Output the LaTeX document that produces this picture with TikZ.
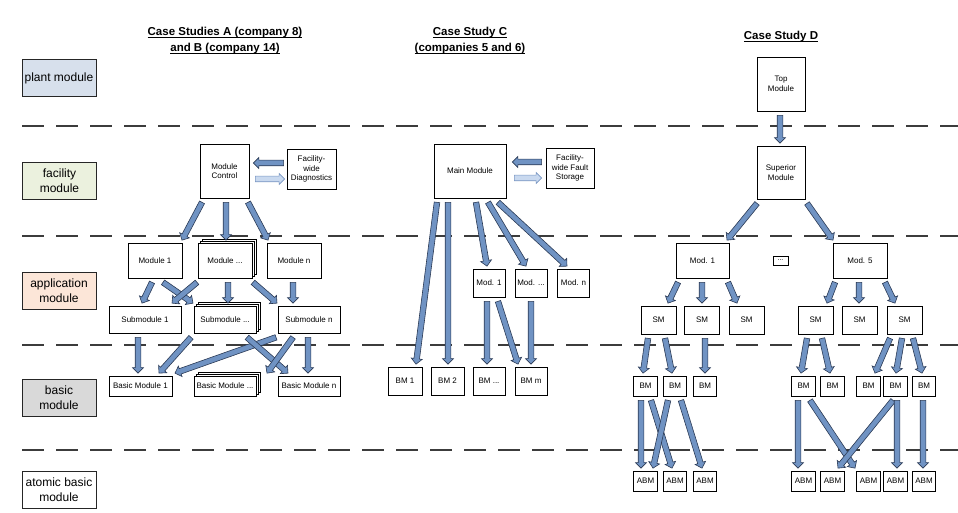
\documentclass[tikz,border=0pt]{standalone}
\usepackage{fontspec}
\setmainfont{Liberation Sans}
\usetikzlibrary{calc}
\definecolor{arrfill}{HTML}{7093C3}
\definecolor{arrline}{HTML}{2B3A55}
\definecolor{lightfill}{HTML}{C9D9EF}
\definecolor{lightline}{HTML}{7895C2}
\definecolor{plantc}{HTML}{D7E0EC}
\definecolor{facc}{HTML}{EBF1DE}
\definecolor{appc}{HTML}{FCE6D8}
\definecolor{basicc}{HTML}{D9D9D9}
\definecolor{dashc}{HTML}{3C3C3C}
\tikzset{
 darr/.style={fill=arrfill, draw=arrline, line width=0.6pt},
 larr/.style={fill=lightfill, draw=lightline, line width=0.6pt},
 box/.style={draw=black, line width=0.7pt, fill=white, font=\fontsize{8}{9.5}\selectfont, align=center, inner sep=1pt},
 layerbox/.style={draw=black!85, line width=1pt, font=\fontsize{12}{15}\selectfont, align=center, minimum width=74, minimum height=37, inner sep=1pt},
 sep/.style={draw=dashc, line width=1.8pt, dash pattern=on 22pt off 12pt},
 head/.style={font=\fontsize{11.5}{16}\selectfont\bfseries, align=center},
}
\newcommand\hdul[1]{\setbox0\hbox{#1}\rlap{\rule[-2.2pt]{\wd0}{0.9pt}}\box0}
\newcommand\arrpoly[3]{%
 \coordinate (faA) at (#2);
 \coordinate (faB) at (#3);
 \coordinate (faH) at ($(faB)!5.5pt!(faA)$);
 \draw[#1] ($(faA)!2.8pt!90:(faB)$) -- ($(faH)!2.8pt!90:(faB)$) -- ($(faH)!5.5pt!90:(faB)$) -- (faB) -- ($(faH)!5.5pt!-90:(faB)$) -- ($(faH)!2.8pt!-90:(faB)$) -- ($(faA)!2.8pt!-90:(faB)$) -- cycle;}
\newcommand\farr[5][darr]{\arrpoly{#1}{$(#2.south)+(#3,4)$}{$(#4.north)+(#5,-2.5)$}}
\newcommand\stacknode[5]{%
 \node[box, minimum width=#3, minimum height=#4] (#1s2) at ($(#2)+(4,-4)$) {};
 \node[box, minimum width=#3, minimum height=#4] (#1s1) at ($(#2)+(2,-2)$) {};
 \node[box, minimum width=#3, minimum height=#4] (#1) at (#2) {#5};}
\begin{document}
\begin{tikzpicture}[x=1pt,y=-1pt]
\useasboundingbox (0,0) rectangle (958,513);
\foreach \yy in {126,236,345,450} \draw[sep] (22,\yy) -- (958,\yy);
% layer labels
\node[layerbox, fill=plantc] (lp) at (59,78.5) {plant module};
\node[layerbox, fill=facc] (lf) at (59.5,181) {facility\\module};
\node[layerbox, fill=appc] (la) at (59,290.5) {application\\module};
\node[layerbox, fill=basicc] (lb) at (59,397.5) {basic\\module};
\node[layerbox, fill=white] (lab) at (59,490) {atomic basic\\module};
% headers
\node[head] (hA) at (225,41) {\hdul{Case Studies A (company 8)}\\\hdul{and B (company 14)}};
\node[head] (hC) at (470,41) {\hdul{Case Study C}\\\hdul{(companies 5 and 6)}};
\node[head] (hD) at (781,37) {\hdul{Case Study D}};
% ---- Case A/B
\node[box, minimum width=49, minimum height=54] (mc) at (224.5,171) {Module\\Control};
\node[box, minimum width=49, minimum height=40] (fd) at (311.5,169) {Facility-\\wide\\Diagnostics};
\node[box, minimum width=54, minimum height=35] (m1) at (155,260.5) {Module 1};
\stacknode{md}{225,260.5}{54}{35}{Module ...}
\node[box, minimum width=54, minimum height=35] (mn) at (294,260.5) {Module n};
\node[box, minimum width=72, minimum height=27] (s1) at (145,319.5) {Submodule 1};
\stacknode{sd}{225,319.5}{62}{27}{Submodule ...}
\node[box, minimum width=62, minimum height=27] (sn) at (309,319.5) {Submodule n};
\node[box, minimum width=63, minimum height=20] (b1) at (140.5,386) {Basic Module 1};
\stacknode{bd}{225,386}{62}{20}{Basic Module ...}
\node[box, minimum width=62, minimum height=20] (bn) at (309,386) {Basic Module n};
\arrpoly{darr}{$(fd.west)+(-3,-6)$}{$(mc.east)+(4,-8)$}
\arrpoly{larr}{$(mc.east)+(6,8)$}{$(fd.west)+(-2,10)$}
\farr{mc}{-22.5}{m1}{27}
\farr{mc}{1.5}{md}{1}
\farr{mc}{23.5}{mn}{-26}
\farr{m1}{-3}{s1}{-3}
\farr{m1}{8}{sd}{-32}
\farr{md}{-28}{s1}{27}
\farr{md}{3}{sd}{3}
\farr{md}{28}{sn}{-32}
\farr{mn}{-1}{sn}{-16}
\farr{s1}{-7}{b1}{-2.5}
\farr{sd}{-34}{b1}{18.5}
\farr{sn}{-33}{b1}{34.5}
\farr{sd}{22}{bn}{-21}
\farr{sn}{-16}{bd}{42}
\farr{sn}{-1}{bn}{-1}
% ---- Case C
\node[box, minimum width=72, minimum height=54] (mm) at (470,171) {Main Module};
\node[box, minimum width=48, minimum height=40] (fs) at (570,168) {Facility-\\wide Fault\\Storage};
\node[box, minimum width=32, minimum height=28] (c1) at (489,283) {Mod. 1};
\node[box, minimum width=32, minimum height=28] (cd) at (531,283) {Mod. ...};
\node[box, minimum width=32, minimum height=28] (cn) at (573.5,283) {Mod. n};
\node[box, minimum width=34, minimum height=28] (bm1) at (405,381) {BM 1};
\node[box, minimum width=33, minimum height=28] (bm2) at (447.5,381) {BM 2};
\node[box, minimum width=32, minimum height=28] (bmd) at (489,381) {BM ...};
\node[box, minimum width=32, minimum height=28] (bmm) at (531,381) {BM m};
\arrpoly{darr}{$(fs.west)+(-4,-6)$}{$(mm.east)+(6,-9)$}
\arrpoly{larr}{$(mm.east)+(8,7)$}{$(fs.west)+(-4,10)$}
\farr{mm}{-33}{bm1}{11}
\farr{mm}{-22}{bm2}{0.5}
\farr{mm}{6}{c1}{-2}
\farr{mm}{18}{cd}{-5}
\farr{mm}{28}{cn}{-6.5}
\farr{c1}{-2}{bmd}{-2}
\farr{c1}{9}{bmm}{-13}
\farr{cd}{0}{bmm}{0}
% ---- Case D
\node[box, minimum width=48, minimum height=54] (top) at (781,84) {Top\\Module};
\node[box, minimum width=48, minimum height=53] (sup) at (781,172.5) {Superior\\Module};
\node[box, minimum width=53, minimum height=35] (d1) at (702.5,260.5) {Mod. 1};
\node[box, minimum width=15, minimum height=9, inner sep=0pt, font=\fontsize{7}{8}\selectfont] (dd) at (780.5,260.5) {...};
\node[box, minimum width=54, minimum height=35] (d5) at (860,260.5) {Mod. 5};
\foreach \nm/\xx in {sa1/658.5, sa2/702, sa3/746.5, sb1/815.5, sb2/859.5, sb3/904.5}
  \node[box, minimum width=35, minimum height=28] (\nm) at (\xx,320) {SM};
\foreach \nm/\xx in {ba1/645.5, ba2/675, ba3/705, bb1/803.5, bb2/832.5, bb3/868.5, bb4/895.5, bb5/924}
  \node[box, minimum width=23.5, minimum height=20] (\nm) at (\xx,386) {BM};
\foreach \nm/\xx in {aa1/645.5, aa2/675, aa3/705, ab1/803.5, ab2/832.5, ab3/868.5, ab4/895.5, ab5/924}
  \node[box, minimum width=23.5, minimum height=20] (\nm) at (\xx,481) {ABM};
\farr{top}{-1}{sup}{-1}
\farr{sup}{-24}{d1}{24.5}
\farr{sup}{26}{d5}{-27}
\farr{d1}{-24.5}{sa1}{9.5}
\farr{d1}{-0.5}{sa2}{0}
\farr{d1}{25.5}{sa3}{-9.5}
\farr{d5}{-25}{sb1}{11.5}
\farr{d5}{-1}{sb2}{-0.5}
\farr{d5}{25}{sb3}{-9.5}
\farr{sa1}{-10.5}{ba1}{-2.5}
\farr{sa1}{6.5}{ba2}{-3}
\farr{sa2}{3}{ba3}{0}
\farr{sb1}{-8.5}{bb1}{-2.5}
\farr{sb1}{6.5}{bb2}{-2.5}
\farr{sb3}{-14.5}{bb3}{6.5}
\farr{sb3}{-2.5}{bb4}{0.5}
\farr{sb3}{8.5}{bb5}{-2}
\farr{ba1}{-4.5}{aa1}{-4.5}
\farr{ba1}{5.5}{aa2}{-3}
\farr{ba2}{-7}{aa1}{7.5}
\farr{ba2}{6}{aa3}{-3}
\farr{bb1}{-5.5}{ab1}{-5.5}
\farr{bb1}{6.5}{ab3}{-13.5}
\farr{bb4}{-2.5}{ab2}{5.5}
\farr{bb4}{1.5}{ab4}{1.5}
\farr{bb5}{-1}{ab5}{-1}
\end{tikzpicture}
\end{document}
